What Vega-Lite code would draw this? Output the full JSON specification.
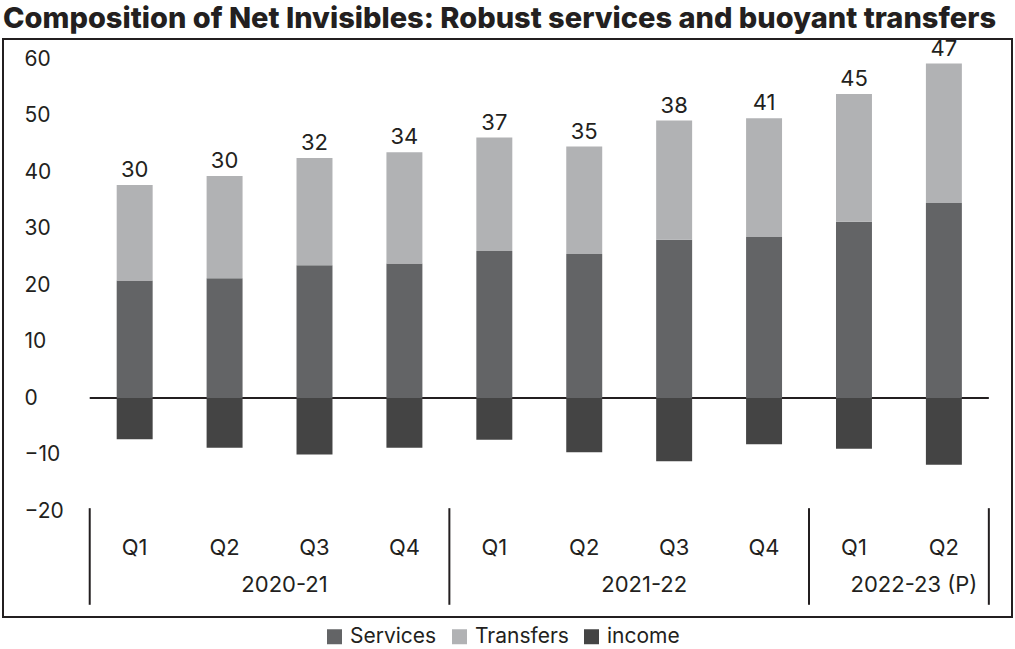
{
  "$schema": "https://vega.github.io/schema/vega-lite/v6.json",
  "width": 1009,
  "height": 578,
  "autosize": {"type": "none"},
  "padding": {"left": 3, "top": 39, "right": 3, "bottom": 32},
  "title": {
    "text": "Composition of Net Invisibles: Robust services and buoyant transfers",
    "anchor": "start",
    "font": "Inter",
    "fontSize": 29,
    "fontWeight": 800,
    "color": "#231f20",
    "offset": 4
  },
  "config": {
    "font": "Inter",
    "view": {"stroke": "#231f20", "strokeWidth": 2},
    "text": {"font": "Inter", "fontSize": 22, "color": "#231f20"}
  },
  "datasets": {
    "bars": [
      {"period": "Q1|2020-21", "q": "Q1", "component": "Services", "value": 20.8, "net": 30},
      {"period": "Q1|2020-21", "q": "Q1", "component": "Transfers", "value": 16.9, "net": 30},
      {"period": "Q1|2020-21", "q": "Q1", "component": "income", "value": -7.3, "net": 30},
      {"period": "Q2|2020-21", "q": "Q2", "component": "Services", "value": 21.2, "net": 30},
      {"period": "Q2|2020-21", "q": "Q2", "component": "Transfers", "value": 18.1, "net": 30},
      {"period": "Q2|2020-21", "q": "Q2", "component": "income", "value": -8.8, "net": 30},
      {"period": "Q3|2020-21", "q": "Q3", "component": "Services", "value": 23.5, "net": 32},
      {"period": "Q3|2020-21", "q": "Q3", "component": "Transfers", "value": 19.0, "net": 32},
      {"period": "Q3|2020-21", "q": "Q3", "component": "income", "value": -10.0, "net": 32},
      {"period": "Q4|2020-21", "q": "Q4", "component": "Services", "value": 23.8, "net": 34},
      {"period": "Q4|2020-21", "q": "Q4", "component": "Transfers", "value": 19.7, "net": 34},
      {"period": "Q4|2020-21", "q": "Q4", "component": "income", "value": -8.8, "net": 34},
      {"period": "Q1|2021-22", "q": "Q1", "component": "Services", "value": 26.0, "net": 37},
      {"period": "Q1|2021-22", "q": "Q1", "component": "Transfers", "value": 20.1, "net": 37},
      {"period": "Q1|2021-22", "q": "Q1", "component": "income", "value": -7.4, "net": 37},
      {"period": "Q2|2021-22", "q": "Q2", "component": "Services", "value": 25.5, "net": 35},
      {"period": "Q2|2021-22", "q": "Q2", "component": "Transfers", "value": 19.0, "net": 35},
      {"period": "Q2|2021-22", "q": "Q2", "component": "income", "value": -9.6, "net": 35},
      {"period": "Q3|2021-22", "q": "Q3", "component": "Services", "value": 28.0, "net": 38},
      {"period": "Q3|2021-22", "q": "Q3", "component": "Transfers", "value": 21.1, "net": 38},
      {"period": "Q3|2021-22", "q": "Q3", "component": "income", "value": -11.2, "net": 38},
      {"period": "Q4|2021-22", "q": "Q4", "component": "Services", "value": 28.5, "net": 41},
      {"period": "Q4|2021-22", "q": "Q4", "component": "Transfers", "value": 21.0, "net": 41},
      {"period": "Q4|2021-22", "q": "Q4", "component": "income", "value": -8.2, "net": 41},
      {"period": "Q1|2022-23 (P)", "q": "Q1", "component": "Services", "value": 31.2, "net": 45},
      {"period": "Q1|2022-23 (P)", "q": "Q1", "component": "Transfers", "value": 22.6, "net": 45},
      {"period": "Q1|2022-23 (P)", "q": "Q1", "component": "income", "value": -9.0, "net": 45},
      {"period": "Q2|2022-23 (P)", "q": "Q2", "component": "Services", "value": 34.5, "net": 47},
      {"period": "Q2|2022-23 (P)", "q": "Q2", "component": "Transfers", "value": 24.7, "net": 47},
      {"period": "Q2|2022-23 (P)", "q": "Q2", "component": "income", "value": -11.8, "net": 47}
    ],
    "years": [
      {"period": "Q3|2020-21", "fy": "2020-21"},
      {"period": "Q3|2021-22", "fy": "2021-22"},
      {"period": "Q2|2022-23 (P)", "fy": "2022-23 (P)"}
    ],
    "dividers": [
      {"period": "Q1|2020-21"},
      {"period": "Q1|2021-22"},
      {"period": "Q1|2022-23 (P)"}
    ]
  },
  "data": {"name": "bars"},
  "encoding": {
    "x": {
      "field": "period",
      "type": "nominal",
      "scale": {
        "domain": [
          "Q1|2020-21", "Q2|2020-21", "Q3|2020-21", "Q4|2020-21",
          "Q1|2021-22", "Q2|2021-22", "Q3|2021-22", "Q4|2021-22",
          "Q1|2022-23 (P)", "Q2|2022-23 (P)"
        ],
        "paddingInner": 0.6,
        "paddingOuter": 0.911,
        "align": 0.694
      },
      "axis": null
    }
  },
  "layer": [
    {
      "data": {"values": [{"a": "Q1|2020-21", "b": "Q2|2022-23 (P)"}]},
      "mark": {"type": "rule", "color": "#231f20", "strokeWidth": 2},
      "encoding": {
        "x": {"field": "a", "type": "nominal", "bandPosition": -0.75},
        "x2": {"field": "b", "bandPosition": 1.75},
        "y": {"datum": 0}
      }
    },
    {
      "mark": {"type": "bar"},
      "encoding": {
        "y": {
          "field": "value",
          "type": "quantitative",
          "stack": "zero",
          "scale": {"domain": [-38.76, 63.54], "nice": false, "zero": false},
          "axis": {
            "values": [-20, -10, 0, 10, 20, 30, 40, 50, 60],
            "title": null,
            "domain": false,
            "ticks": false,
            "grid": false,
            "labelAlign": "left",
            "labelPadding": 0,
            "offset": -21,
            "labelFont": "Inter",
            "labelFontSize": 21,
            "labelColor": "#231f20"
          }
        },
        "color": {
          "field": "component",
          "type": "nominal",
          "scale": {
            "domain": ["Services", "Transfers", "income"],
            "range": ["#636466", "#b1b2b4", "#444444"]
          },
          "legend": {
            "orient": "none",
            "legendX": 321,
            "legendY": 587,
            "direction": "horizontal",
            "title": null,
            "symbolType": "square",
            "symbolSize": 225,
            "symbolStrokeWidth": 0,
            "symbolOpacity": 1,
            "labelFont": "Inter",
            "labelFontSize": 21,
            "labelColor": "#231f20",
            "labelOffset": 5,
            "columnPadding": 12
          }
        },
        "order": {"field": "component", "sort": "ascending"}
      }
    },
    {
      "transform": [
        {"filter": "datum.value > 0"},
        {"aggregate": [{"op": "sum", "field": "value", "as": "top"}], "groupby": ["period", "net"]}
      ],
      "mark": {"type": "text", "baseline": "bottom", "dy": -3},
      "encoding": {
        "y": {"field": "top", "type": "quantitative"},
        "text": {"field": "net", "type": "quantitative"}
      }
    },
    {
      "transform": [{"filter": "datum.component == 'Services'"}],
      "mark": {"type": "text", "baseline": "middle"},
      "encoding": {
        "y": {"datum": -26.5},
        "text": {"field": "q", "type": "nominal"}
      }
    },
    {
      "data": {"name": "years"},
      "mark": {"type": "text", "baseline": "middle", "dx": 15},
      "encoding": {
        "x": {"field": "period", "type": "nominal", "bandPosition": -0.75},
        "y": {"datum": -33.1},
        "text": {"field": "fy", "type": "nominal"}
      }
    },
    {
      "data": {"name": "dividers"},
      "mark": {"type": "rule", "color": "#231f20", "strokeWidth": 2},
      "encoding": {
        "x": {"field": "period", "type": "nominal", "bandPosition": -0.75},
        "y": {"datum": -19.5},
        "y2": {"datum": -36.6}
      }
    },
    {
      "data": {"values": [{"period": "Q2|2022-23 (P)"}]},
      "mark": {"type": "rule", "color": "#231f20", "strokeWidth": 2},
      "encoding": {
        "x": {"field": "period", "type": "nominal", "bandPosition": 1.75},
        "y": {"datum": -19.5},
        "y2": {"datum": -36.6}
      }
    }
  ]
}
